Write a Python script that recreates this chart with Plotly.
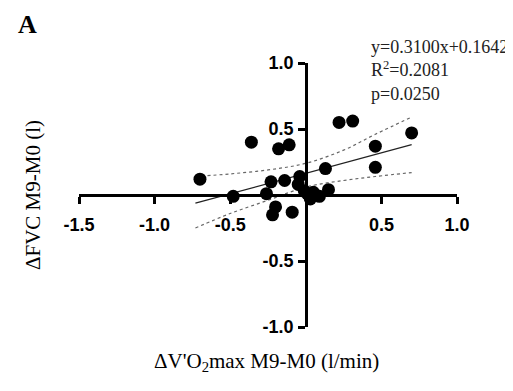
import plotly.graph_objects as go

# Data
dvo2 = [-0.70, -0.48, -0.36, -0.18, -0.11, -0.23, -0.14, -0.26, -0.20, -0.22,
        -0.09, -0.04, -0.05, -0.01, 0.03, 0.05, 0.09, 0.15, 0.13, 0.22,
        0.31, 0.46, 0.46, 0.70, 0.01]
dfvc = [0.12, -0.01, 0.40, 0.35, 0.38, 0.10, 0.11, 0.01, -0.09, -0.15,
        -0.13, 0.14, 0.08, 0.03, -0.03, 0.02, -0.01, 0.04, 0.20, 0.55,
        0.56, 0.37, 0.21, 0.47, 0.01]

slope = 0.3100
intercept = 0.1642
fit_x = [-0.73, 0.70]

band_x = [-0.73, -0.5, -0.25, 0.0, 0.25, 0.46, 0.70]
band_upper = [0.14, 0.16, 0.19, 0.24, 0.34, 0.46, 0.59]
band_lower = [-0.25, -0.14, -0.04, 0.06, 0.11, 0.14, 0.17]

x_ticks = [-1.5, -1.0, -0.5, 0.5, 1.0]
y_ticks = [-1.0, -0.5, 0.5, 1.0]

fit_y = [slope * v + intercept for v in fit_x]

fig = go.Figure()
fig.add_trace(go.Scatter(x=band_x, y=band_upper, mode="lines",
                         line=dict(color="#666666", width=1.2, dash="dot", shape="spline")))
fig.add_trace(go.Scatter(x=band_x, y=band_lower, mode="lines",
                         line=dict(color="#666666", width=1.2, dash="dot", shape="spline")))
fig.add_trace(go.Scatter(x=fit_x, y=fit_y, mode="lines",
                         line=dict(color="#222222", width=1.3)))
fig.add_trace(go.Scatter(x=dvo2, y=dfvc, mode="markers",
                         marker=dict(color="black", size=13)))

tickfont = dict(family="Liberation Sans, Arial", size=18, color="black", weight="bold")

OFF = 8  # page body margin
W, H = 513 - OFF, 391 - OFF
L, R, T, B = 71, 56, 55, 64
pw, ph = W - L - R, H - T - B

fig.update_layout(
    width=W, height=H,
    margin=dict(l=L, r=R, t=T, b=B),
    paper_bgcolor="white", plot_bgcolor="white",
    showlegend=False,
    xaxis=dict(range=[-1.5, 1.0], tickvals=x_ticks, ticktext=[f"{v:.1f}" for v in x_ticks],
               showgrid=False, zeroline=False, showline=True, linecolor="black", linewidth=2.5,
               ticks="outside", ticklen=7, tickwidth=2.5, tickcolor="black",
               anchor="free", position=0.5, tickfont=tickfont, automargin=False,
               ticklabelstandoff=6),
    yaxis=dict(range=[-1.0, 1.0], tickvals=y_ticks, ticktext=[f"{v:.1f}" for v in y_ticks],
               showgrid=False, zeroline=False, showline=True, linecolor="black", linewidth=2.5,
               ticks="outside", ticklen=7, tickwidth=2.5, tickcolor="black",
               anchor="free", position=0.6, tickfont=tickfont, automargin=False,
               ticklabelstandoff=1),
)

serif = "Liberation Serif, Times New Roman"


def px(xp):
    return (xp - OFF - L) / pw


def py(yp):
    return (H - B - (yp - OFF)) / ph


fig.add_annotation(text="<b>A</b>", x=px(16), y=py(24), xref="paper", yref="paper",
                   xanchor="left", yanchor="middle", showarrow=False,
                   font=dict(family=serif, size=26, color="black"))
fig.add_annotation(text="y=0.3100x+0.1642<br>R<sup>2</sup>=0.2081<br>p=0.0250",
                   x=px(369), y=py(35), xref="paper", yref="paper", align="left",
                   xanchor="left", yanchor="top", showarrow=False,
                   font=dict(family=serif, size=18, color="#222222"))
fig.add_annotation(text="ΔFVC M9-M0 (l)", x=px(33), y=py(195), xref="paper", yref="paper",
                   xanchor="center", yanchor="middle",
                   textangle=-90, showarrow=False,
                   font=dict(family=serif, size=21, color="black"))
fig.add_annotation(text="ΔV'O<sub>2</sub>max M9-M0 (l/min)", x=px(266), y=py(362),
                   xref="paper", yref="paper", xanchor="center", yanchor="middle",
                   showarrow=False,
                   font=dict(family=serif, size=21, color="black"))

fig.write_html("out.html")
